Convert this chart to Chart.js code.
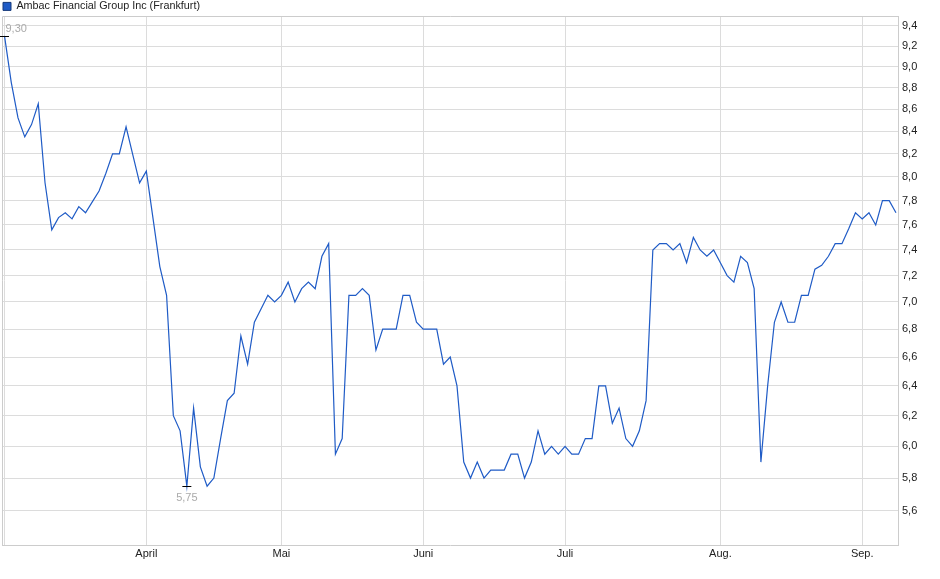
<!DOCTYPE html>
<html>
<head>
<meta charset="utf-8">
<script src="https://cdn.jsdelivr.net/npm/chart.js@4/dist/chart.umd.min.js"></script>
<style>
    html, body { margin: 0; padding: 0; background: #fff; }
    #chart_box { width: 940px; height: 579px; }
</style>
</head>
<body>
<div id="chart_box"><canvas id="stock_chart" width="940" height="579"></canvas></div>
<script>
// trading days per month, first entry (März) is not labelled in the picture
const monthNames = ['', 'April', 'Mai', 'Juni', 'Juli', 'Aug.', 'Sep.'];
const tradingDays = [21, 20, 21, 21, 23, 21, 6];

const yTicks = [5.6, 5.8, 6.0, 6.2, 6.4, 6.6, 6.8, 7.0, 7.2, 7.4, 7.6, 7.8, 8.0, 8.2, 8.4, 8.6, 8.8, 9.0, 9.2, 9.4];

// closing prices in EUR, one per trading day
const prices = [
    9.30, 8.85, 8.52, 8.35, 8.46, 8.65, 7.95, 7.56, 7.66, 7.70,
    7.65, 7.75, 7.70, 7.79, 7.88, 8.03, 8.20, 8.20, 8.44, 8.19,
    7.95, 8.05, 7.65, 7.27, 7.05, 6.20, 6.10, 5.75, 6.25, 5.87,
    5.75, 5.80, 6.05, 6.30, 6.35, 6.75, 6.55, 6.85, 6.95, 7.05,
    7.00, 7.05, 7.15, 7.00, 7.10, 7.15, 7.10, 7.35, 7.45, 5.95,
    6.05, 7.05, 7.05, 7.10, 7.05, 6.65, 6.80, 6.80, 6.80, 7.05,
    7.05, 6.85, 6.80, 6.80, 6.80, 6.55, 6.60, 6.40, 5.90, 5.80,
    5.90, 5.80, 5.85, 5.85, 5.85, 5.95, 5.95, 5.80, 5.90, 6.10,
    5.95, 6.00, 5.95, 6.00, 5.95, 5.95, 6.05, 6.05, 6.40, 6.40,
    6.15, 6.25, 6.05, 6.00, 6.10, 6.30, 7.40, 7.45, 7.45, 7.40,
    7.45, 7.30, 7.50, 7.40, 7.35, 7.40, 7.30, 7.20, 7.15, 7.35,
    7.30, 7.10, 5.90, 6.40, 6.85, 7.00, 6.85, 6.85, 7.05, 7.05,
    7.25, 7.28, 7.35, 7.45, 7.45, 7.57, 7.70, 7.65, 7.70, 7.60,
    7.80, 7.80, 7.70
];

// index of first trading day of each month
let monthStarts = [];
let count = 0;
tradingDays.forEach(n => {
    monthStarts.push(count);
    count += n;
});

const lineColor = '#1f5bc6';
const gridColor = '#dcdcdc';
const fontFamily = "'Liberation Sans', Arial, sans-serif";

const comma = (v, d) => v.toFixed(d).replace('.', ',');

// frame round the plot + high / low markers
const extremes = {
    id: 'extremes',
    afterDatasetsDraw(chart) {
        const {ctx, chartArea, scales} = chart;
        ctx.save();
        ctx.strokeStyle = '#cccccc';
        ctx.lineWidth = 1;
        ctx.beginPath();
        ctx.moveTo(chartArea.left + 0.5, chartArea.bottom);
        ctx.lineTo(chartArea.left + 0.5, chartArea.top + 0.5);
        ctx.lineTo(chartArea.right, chartArea.top + 0.5);
        ctx.stroke();

        let hi = 0, lo = 0;
        prices.forEach((p, i) => {
            if (p > prices[hi]) hi = i;
            if (p < prices[lo]) lo = i;
        });
        ctx.strokeStyle = '#000';
        ctx.fillStyle = '#aaaaaa';
        ctx.font = '11px ' + fontFamily;

        let x = scales.x.getPixelForValue(hi);
        let y = Math.round(scales.y.getPixelForValue(prices[hi])) + 0.5;
        ctx.beginPath();
        ctx.moveTo(x - 4.5, y);
        ctx.lineTo(x + 4.5, y);
        ctx.stroke();
        ctx.textAlign = 'left';
        ctx.textBaseline = 'middle';
        ctx.fillText(comma(prices[hi], 2), x + 1, y - 8);

        x = scales.x.getPixelForValue(lo);
        y = Math.round(scales.y.getPixelForValue(prices[lo])) + 0.5;
        ctx.beginPath();
        ctx.moveTo(x - 4.5, y);
        ctx.lineTo(x + 4.5, y);
        ctx.stroke();
        ctx.textAlign = 'center';
        ctx.fillText(comma(prices[lo], 2), x, y + 11);
        ctx.restore();
    }
};

let myChart = document.getElementById('stock_chart').getContext('2d');

let stockChart = new Chart(myChart, {
    type: 'line',
    data: {
        datasets: [{
            label: 'Ambac Financial Group Inc (Frankfurt)',
            data: prices.map((p, i) => ({x: i, y: p})),
            borderColor: lineColor,
            backgroundColor: lineColor,
            borderWidth: 1.2,
            pointRadius: 0,
            tension: 0
        }]
    },
    options: {
        responsive: false,
        animation: false,
        layout: {padding: {left: 2, right: 0, top: 0, bottom: 0}},
        plugins: {
            tooltip: {enabled: false},
            legend: {
                position: 'top',
                align: 'start',
                maxHeight: 16,
                labels: {
                    boxWidth: 8,
                    boxHeight: 8,
                    padding: 1,
                    color: '#222',
                    font: {family: fontFamily, size: 10.8},
                    generateLabels: chart => {
                        let items = Chart.defaults.plugins.legend.labels.generateLabels(chart);
                        items.forEach(item => {
                            item.strokeStyle = '#163a7a';
                            item.lineWidth = 1;
                        });
                        return items;
                    }
                }
            }
        },
        scales: {
            x: {
                type: 'linear',
                min: -0.37,
                max: prices.length - 0.7,
                afterBuildTicks: scale => {
                    scale.ticks = monthStarts.map(v => ({value: v}));
                },
                afterFit: scale => { scale.height = 34; },
                ticks: {
                    autoSkip: false,
                    maxRotation: 0,
                    padding: 2,
                    color: '#222',
                    font: {family: fontFamily, size: 11},
                    callback: value => {
                        const k = monthStarts.indexOf(value);
                        return k < 0 ? null : monthNames[k];
                    }
                },
                grid: {color: gridColor, drawTicks: false},
                border: {color: '#cccccc'}
            },
            y: {
                type: 'logarithmic',
                position: 'right',
                min: 5.4,
                max: 9.5,
                afterBuildTicks: scale => {
                    scale.ticks = yTicks.map(v => ({value: v}));
                },
                afterFit: scale => { scale.width = 42; },
                ticks: {
                    padding: 4,
                    color: '#222',
                    font: {family: fontFamily, size: 11},
                    callback: value => comma(value, 1)
                },
                grid: {color: gridColor, drawTicks: false},
                border: {color: '#cccccc'}
            }
        }
    },
    plugins: [extremes]
});
</script>
</body>
</html>
